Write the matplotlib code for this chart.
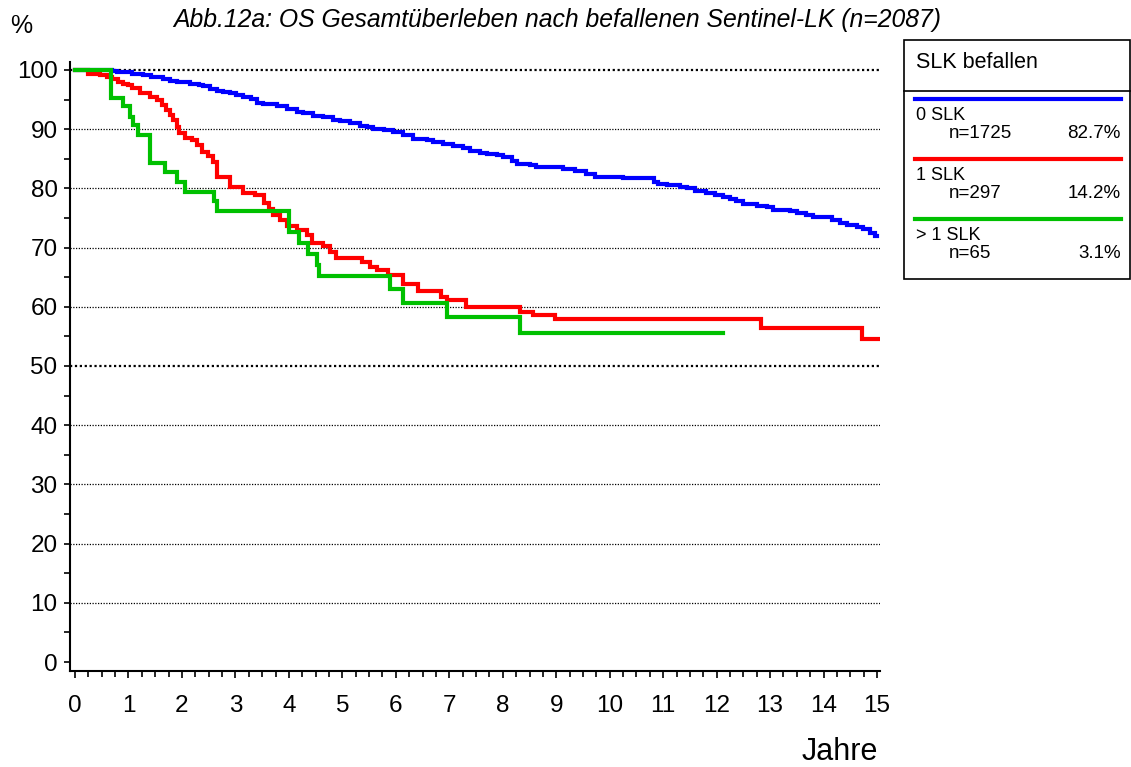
import matplotlib
matplotlib.use("Agg")
import matplotlib.pyplot as plt
from matplotlib.patches import Rectangle
from matplotlib.lines import Line2D

plt.rcParams['font.family'] = ['Liberation Sans', 'DejaVu Sans']

# ---- data (years, survival %) ----
blue_t = [0, 0.69, 0.78, 0.90, 1.06, 1.15, 1.28, 1.43, 1.53, 1.65, 1.78, 1.90, 2.06, 2.15,
          2.31, 2.40, 2.52, 2.65, 2.77, 2.90, 3.02, 3.15, 3.30, 3.40, 3.52, 3.77, 3.96,
          4.15, 4.27, 4.46, 4.64, 4.83, 4.96, 5.14, 5.33, 5.46, 5.58, 5.77, 5.95, 6.14,
          6.33, 6.58, 6.70, 6.89, 7.07, 7.26, 7.39, 7.57, 7.70, 7.89, 8.01, 8.17, 8.26,
          8.51, 8.63, 9.13, 9.35, 9.55, 9.72, 9.82, 10.25, 10.82, 10.91, 11.07, 11.31,
          11.44, 11.60, 11.81, 11.97, 12.12, 12.25, 12.37, 12.50, 12.75, 12.94, 13.06,
          13.37, 13.50, 13.68, 13.81, 14.06, 14.15, 14.31, 14.43, 14.62, 14.74, 14.87,
          14.96, 15.0]
blue_s = [100, 99.8, 99.7, 99.6, 99.4, 99.3, 99.1, 98.9, 98.8, 98.5, 98.2, 98.0, 97.9, 97.6,
          97.4, 97.3, 96.8, 96.5, 96.3, 96.1, 95.8, 95.5, 95.1, 94.5, 94.3, 94.0, 93.4,
          92.9, 92.7, 92.2, 92.0, 91.6, 91.3, 91.0, 90.5, 90.3, 90.0, 89.8, 89.6, 89.0,
          88.3, 88.2, 87.9, 87.5, 87.2, 86.8, 86.4, 86.0, 85.8, 85.6, 85.3, 84.7, 84.2,
          84.0, 83.6, 83.2, 82.9, 82.4, 82.0, 81.9, 81.7, 81.1, 80.7, 80.5, 80.3,
          80.0, 79.5, 79.3, 78.9, 78.5, 78.2, 77.8, 77.4, 77.0, 76.8, 76.4,
          76.2, 75.8, 75.5, 75.2, 75.1, 74.6, 74.2, 73.8, 73.5, 73.1, 72.5,
          72.0, 71.9]

red_t = [0, 0.25, 0.47, 0.59, 0.69, 0.81, 0.90, 1.00, 1.06, 1.22, 1.40, 1.53, 1.62, 1.70,
         1.78, 1.84, 1.90, 1.95, 2.06, 2.18, 2.28, 2.37, 2.49, 2.59, 2.65, 2.90, 3.15,
         3.37, 3.53, 3.62, 3.71, 3.83, 3.96, 4.15, 4.33, 4.43, 4.64, 4.77, 4.89, 5.36,
         5.52, 5.64, 5.86, 6.13, 6.42, 6.84, 6.95, 7.31, 8.32, 8.57, 8.98, 12.83, 14.71, 15.02]
red_s = [100, 99.4, 99.1, 98.9, 98.4, 98.0, 97.7, 97.5, 96.9, 96.1, 95.5, 95.0, 94.1, 93.2,
         92.4, 91.6, 90.4, 89.3, 88.5, 88.2, 87.3, 86.2, 85.4, 84.5, 82.0, 80.2, 79.3,
         78.9, 77.5, 76.6, 75.5, 74.7, 73.6, 73.0, 72.1, 70.8, 70.2, 69.3, 68.2, 67.6,
         66.8, 66.2, 65.4, 63.9, 62.7, 61.7, 61.1, 60.0, 59.2, 58.6, 57.9, 56.4, 54.5, 54.5]

green_t = [0, 0.67, 0.90, 1.03, 1.08, 1.18, 1.40, 1.68, 1.90, 2.06, 2.60, 2.65, 4.01, 4.19,
           4.36, 4.52, 4.57, 5.89, 6.13, 6.95, 8.32, 12.11]
green_s = [100, 95.3, 94.0, 92.1, 90.7, 89.0, 84.3, 82.7, 81.0, 79.4, 77.8, 76.2, 72.7, 70.8,
           68.9, 67.1, 65.2, 63.0, 60.7, 58.3, 55.5, 55.5]

series_names = ["0 SLK", "1 SLK", "> 1 SLK"]
series_n = ["n=1725", "n=297", "n=65"]
series_pct = ["82.7%", "14.2%", "3.1%"]
colors = ["#0000FF", "#FF0000", "#00C000"]

title = "Abb.12a: OS Gesamtüberleben nach befallenen Sentinel-LK (n=2087)"

W, H = 1131, 767
fig = plt.figure(figsize=(W / 100, H / 100), dpi=100)
ax = fig.add_axes([70 / W, 1 - 671 / H, (880 - 70) / W, (671 - 62) / H])

x0 = -5 / 53.47
ax.set_xlim(x0, 15.055)
ax.set_ylim(-1.52, 101.35)

# grid lines
for yv in range(10, 101, 10):
    lw = 1.6 if yv in (50, 100) else 0.9
    ax.plot([x0, 15.055], [yv, yv], color="black", lw=lw, ls=(0, (1, 1.2)), zorder=1,
            solid_capstyle='butt', dash_capstyle='butt')

for t, s, c in zip([blue_t, red_t, green_t], [blue_s, red_s, green_s], colors):
    ax.step(t, s, where="post", color=c, lw=3, zorder=3, solid_joinstyle='miter')

for side in ("top", "right"):
    ax.spines[side].set_visible(False)
for side in ("left", "bottom"):
    ax.spines[side].set_linewidth(1.5)

ax.set_xticks(range(0, 16))
ax.set_xticks([i * 0.25 for i in range(61)], minor=True)
ax.set_yticks(range(0, 101, 10))
ax.set_yticks(range(5, 100, 10), minor=True)
ax.tick_params(axis="both", which="major", labelsize=17.5, width=1.2, direction="out")
ax.tick_params(axis="x", which="major", length=5, pad=12)
ax.tick_params(axis="x", which="minor", length=4, width=1.2)
ax.tick_params(axis="y", which="major", length=4, pad=5)
ax.tick_params(axis="y", which="minor", length=4, width=1.2)

fig.text(10 / W, 1 - 26 / H, "%", fontsize=18, va="center", ha="left")
fig.text(878 / W, 1 - 752 / H, "Jahre", fontsize=22, va="center", ha="right")
fig.text(557 / W, 1 - 20 / H, title, fontsize=17.8, style="italic", ha="center", va="center")

# legend box
bx0, bx1, by0, by1 = 904, 1130, 40, 279
fig.patches.append(Rectangle((bx0 / W, 1 - by1 / H), (bx1 - bx0) / W, (by1 - by0) / H,
                             transform=fig.transFigure, fill=False, ec="black", lw=1.2))
fig.lines.append(Line2D([bx0 / W, bx1 / W], [1 - 91 / H, 1 - 91 / H],
                        transform=fig.transFigure, color="black", lw=1.2))
fig.text(916 / W, 1 - 63 / H, "SLK befallen", fontsize=15.5, va="center", ha="left")
line_ys = [99, 159, 219]
for i in range(3):
    ly = line_ys[i]
    fig.lines.append(Line2D([915 / W, 1121 / W], [1 - ly / H, 1 - ly / H],
                            transform=fig.transFigure, color=colors[i], lw=3))
    fig.text(916 / W, 1 - (ly + 16) / H, series_names[i], fontsize=13, va="center", ha="left")
    fig.text(949 / W, 1 - (ly + 34.5) / H, series_n[i], fontsize=13.5, va="center", ha="left")
    fig.text(1121 / W, 1 - (ly + 34.5) / H, series_pct[i], fontsize=13.5, va="center", ha="right")

fig.savefig("out.png", dpi=100)
